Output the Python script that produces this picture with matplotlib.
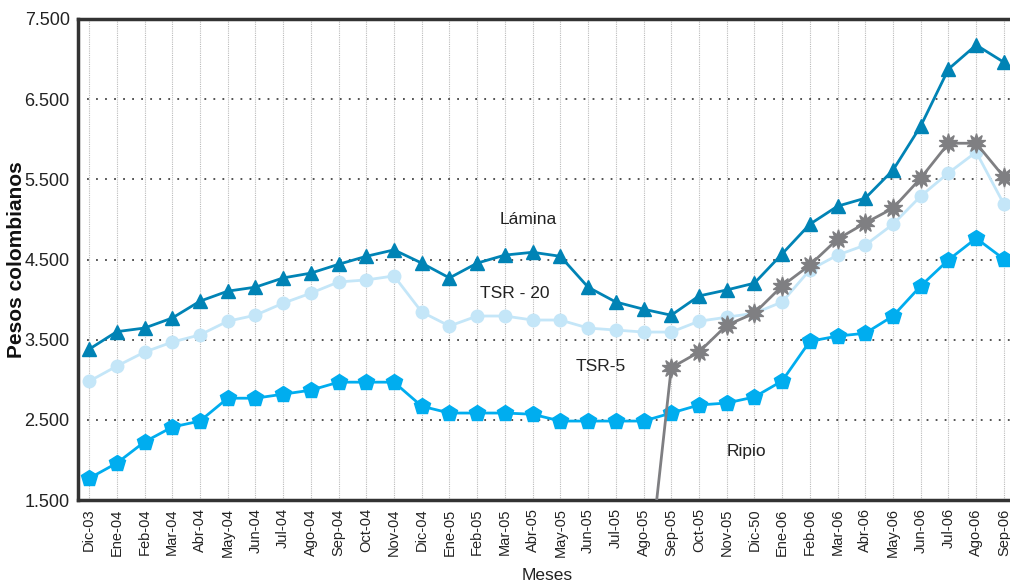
import numpy as np
import matplotlib
matplotlib.use("Agg")
import matplotlib.pyplot as plt
from matplotlib import font_manager

months = ["Dic-03", "Ene-04", "Feb-04", "Mar-04", "Abr-04", "May-04", "Jun-04", "Jul-04",
          "Ago-04", "Sep-04", "Oct-04", "Nov-04", "Dic-04", "Ene-05", "Feb-05", "Mar-05",
          "Abr-05", "May-05", "Jun-05", "Jul-05", "Ago-05", "Sep-05", "Oct-05", "Nov-05",
          "Dic-50", "Ene-06", "Feb-06", "Mar-06", "Abr-06", "May-06", "Jun-06", "Jul-06",
          "Ago-06", "Sep-06"]

lamina = [3380, 3600, 3645, 3770, 3980, 4105, 4155, 4270, 4330, 4440, 4540, 4620,
          4455, 4270, 4455, 4555, 4590, 4540, 4155, 3970, 3880, 3805, 4045, 4120,
          4205, 4570, 4940, 5165, 5265, 5615, 6165, 6875, 7175, 6960]

tsr20 = [2980, 3170, 3345, 3470, 3560, 3730, 3805, 3955, 4080, 4220, 4245, 4295,
         3845, 3670, 3795, 3795, 3745, 3745, 3645, 3620, 3595, 3595, 3730, 3780,
         3830, 3970, 4370, 4555, 4680, 4940, 5290, 5580, 5840, 5190]

tsr5 = [1770, 1960, 2225, 2410, 2485, 2770, 2770, 2820, 2870, 2970, 2970, 2970,
        2670, 2585, 2585, 2585, 2570, 2485, 2485, 2485, 2485, 2585, 2685, 2710,
        2785, 2985, 3480, 3545, 3580, 3795, 4170, 4495, 4765, 4505]

ripio = [0] * 21 + [3150, 3345, 3680, 3830, 4170, 4430, 4755, 4955, 5140, 5515,
                    5950, 5950, 5530]

yticks = [1500, 2500, 3500, 4500, 5500, 6500, 7500]
ytick_labels = ["1.500", "2.500", "3.500", "4.500", "5.500", "6.500", "7.500"]

names = {f.name for f in font_manager.fontManager.ttflist}
narrow = "Liberation Sans Narrow" if "Liberation Sans Narrow" in names else "Liberation Sans"
plt.rcParams["font.family"] = [narrow, "DejaVu Sans"]

fig = plt.figure(figsize=(10.10, 5.84), dpi=100)
ax = fig.add_axes([0.0772, 0.1438, 0.9228, 0.8237])

x = np.arange(len(months))

ax.plot(x, tsr20, color="#c4e6f8", lw=2, marker="o", ms=9, mec="#c4e6f8", zorder=3)
ax.plot(x, tsr5, color="#00adef", lw=2, marker="p", ms=12, mec="#00adef", zorder=4)
ax.plot(x, ripio, color="#7f7f82", lw=2, marker=(10, 1, 0), ms=14, mec="#7f7f82",
        zorder=5)
ax.plot(x, lamina, color="#0083b5", lw=2, marker="^", ms=10, mec="#0083b5", zorder=6)

ax.set_xlim(-0.4, 33.22)
ax.set_ylim(1500, 7500)
ax.set_xticks(x)
ax.set_xticklabels(months, rotation=90, fontsize=10.5, color="#222222")
ax.set_yticks(yticks)
ax.set_yticklabels(ytick_labels, fontsize=13, color="#222222")
ax.tick_params(axis="both", length=0, pad=6)

ax.grid(axis="y", color="#444444", linestyle=(0, (1, 4)), lw=1.3)
ax.grid(axis="x", color="#bbbbbb", linestyle=(0, (1, 1)), lw=0.8)
ax.set_axisbelow(True)

for side in ["left", "bottom", "top"]:
    ax.spines[side].set_color("#333333")
    ax.spines[side].set_linewidth(2.5)
ax.spines["right"].set_visible(False)

ax.set_ylabel("Pesos colombianos", fontsize=15, fontweight="bold",
              family=["Liberation Sans", "DejaVu Sans"], color="#111111")
ax.yaxis.set_label_coords(-0.0555, 0.5)
fig.text(547 / 1010, 1 - 576 / 584, "Meses", fontsize=12.5, ha="center", va="center",
         color="#222222")

ax.text(15.85, 5000, "Lámina", fontsize=12.5, ha="center", va="center", color="#222222")
ax.text(15.35, 4080, "TSR - 20", fontsize=12.5, ha="center", va="center", color="#222222")
ax.text(18.45, 3170, "TSR-5", fontsize=12.5, ha="center", va="center", color="#222222")
ax.text(23.72, 2110, "Ripio", fontsize=12.5, ha="center", va="center", color="#222222")

fig.savefig("out.png", dpi=100)
